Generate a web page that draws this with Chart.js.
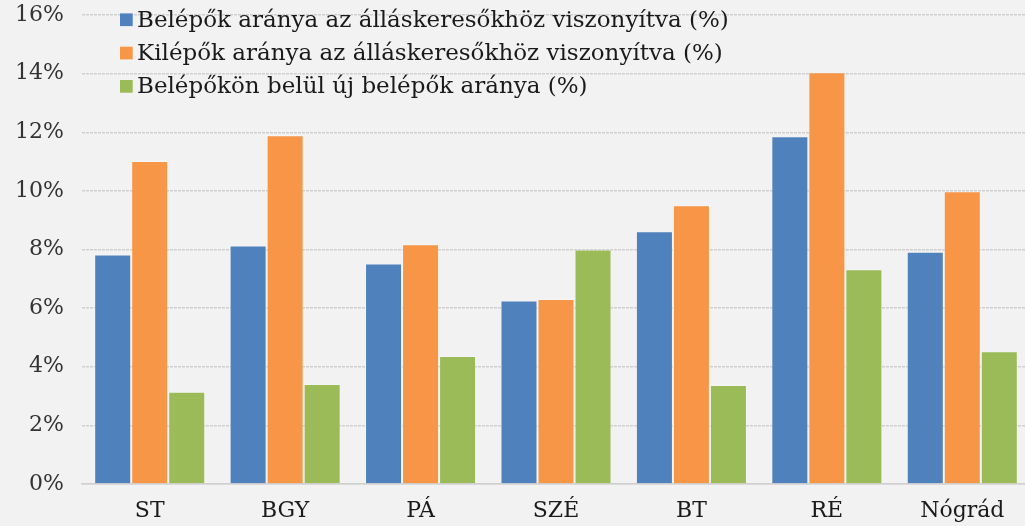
<!DOCTYPE html>
<html>
<head>
<meta charset="utf-8">
<script src="https://cdn.jsdelivr.net/npm/chart.js@4/dist/chart.umd.min.js"></script>
<style>
  html, body { margin: 0; padding: 0; background: #f2f2f2; overflow: hidden; }
  #wrap { width: 1030px; height: 526px; }
</style>
</head>
<body>
<div id="wrap"><canvas id="c" width="1030" height="526"></canvas></div>
<script>
const categories = ['ST', 'BGY', 'PÁ', 'SZÉ', 'BT', 'RÉ', 'Nógrád'];
const seriesNames = [
  'Belépők aránya az álláskeresőkhöz viszonyítva (%)',
  'Kilépők aránya az álláskeresőkhöz viszonyítva (%)',
  'Belépőkön belül új belépők aránya (%)'
];
const belepok = [7.83, 8.14, 7.52, 6.26, 8.62, 11.86, 7.92];
const kilepok = [11.02, 11.90, 8.18, 6.31, 9.51, 14.05, 9.99];
const ujBelepok = [3.15, 3.41, 4.37, 8.00, 3.38, 7.33, 4.53];
const yTicks = [0, 2, 4, 6, 8, 10, 12, 14, 16];

const colors = ['#4f81bd', '#f79646', '#9bbb59'];
const FONT = '"DejaVu Serif", serif';

const legendPlugin = {
  id: 'insideLegend',
  afterDraw(chart) {
    const ctx = chart.ctx;
    ctx.save();
    ctx.font = '23px ' + FONT;
    ctx.textBaseline = 'middle';
    ctx.textAlign = 'left';
    const rows = [19.7, 53, 86.3];
    chart.data.datasets.forEach((ds, i) => {
      const y = rows[i];
      ctx.fillStyle = ds.backgroundColor;
      ctx.fillRect(120, y - 6.3, 12.7, 12.7);
      ctx.fillStyle = '#1a1a1a';
      ctx.fillText(ds.label, 137, y + 1);
    });
    ctx.restore();
  }
};

new Chart(document.getElementById('c'), {
  type: 'bar',
  data: {
    labels: categories,
    datasets: [
      { label: seriesNames[0], data: belepok, backgroundColor: colors[0] },
      { label: seriesNames[1], data: kilepok, backgroundColor: colors[1] },
      { label: seriesNames[2], data: ujBelepok, backgroundColor: colors[2] }
    ].map(d => Object.assign(d, {
      borderColor: 'rgba(255,255,255,0.25)',
      borderWidth: 1,
      categoryPercentage: 0.82,
      barPercentage: 1.0
    }))
  },
  options: {
    responsive: false,
    animation: false,
    layout: { padding: { top: 15, right: 0, bottom: 0, left: 0 } },
    plugins: {
      legend: { display: false },
      tooltip: { enabled: false }
    },
    scales: {
      x: {
        grid: { display: false, drawTicks: false },
        border: { display: true, color: '#cfcfcf', width: 1.5, dash: [3, 1] },
        ticks: { padding: 14, color: '#1a1a1a', font: { family: FONT, size: 22 } },
        afterFit(scale) { scale.height = 42; }
      },
      y: {
        min: yTicks[0],
        max: yTicks[yTicks.length - 1],
        afterBuildTicks(scale) { scale.ticks = yTicks.map(v => ({ value: v })); },
        grid: { color: '#cfcfcf', lineWidth: 1.5, drawTicks: false },
        border: { display: false, dash: [3, 1] },
        ticks: {
          padding: 18,
          color: '#333333',
          font: { family: FONT, size: 22 },
          callback: v => v + '%'
        },
        afterFit(scale) {
          scale.width = 82;
          scale.paddingTop = 0;
          scale.paddingBottom = 0;
        }
      }
    }
  },
  plugins: [legendPlugin]
});
</script>
</body>
</html>
